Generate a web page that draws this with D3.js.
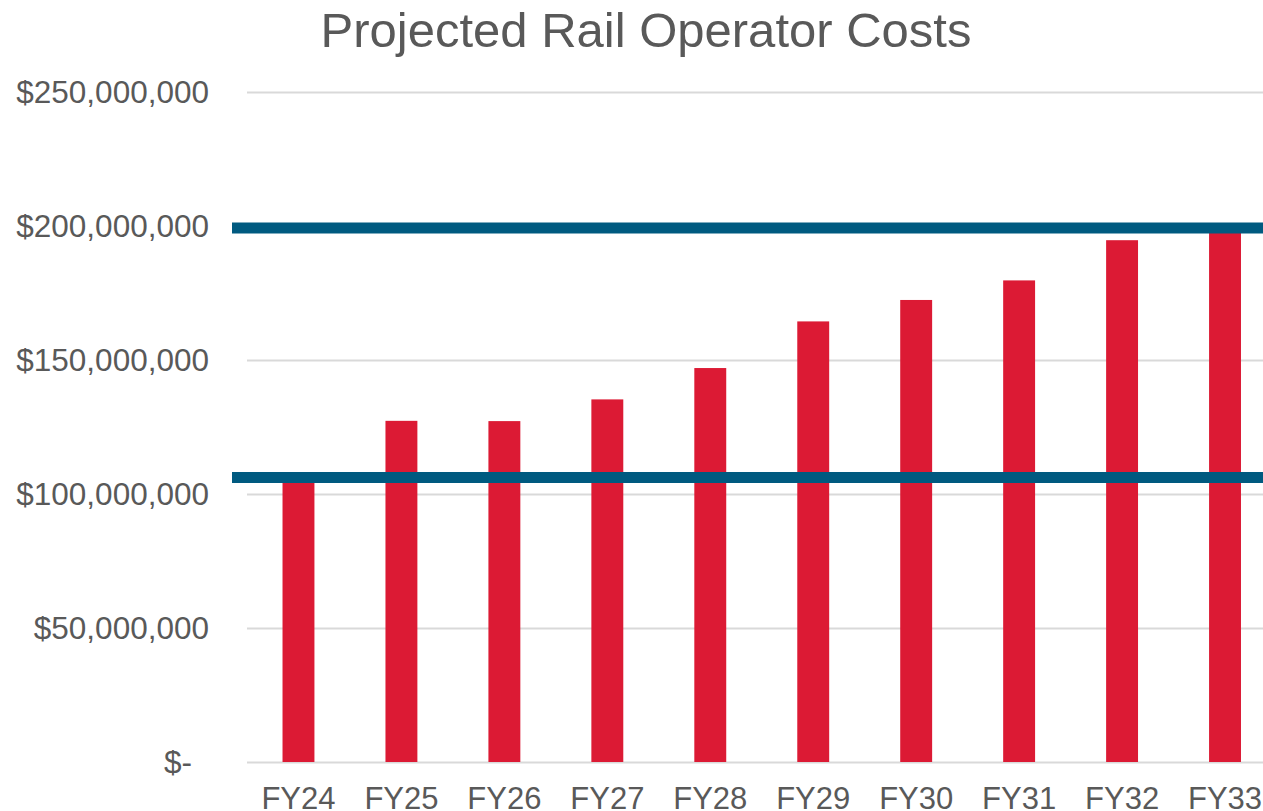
<!DOCTYPE html>
<html>
<head>
<meta charset="utf-8">
<script src="https://cdn.jsdelivr.net/npm/d3@7"></script>
<style>
  body { margin: 0; background: #fff; }
  svg { display: block; font-family: "Liberation Sans", Arial, sans-serif; }
</style>
</head>
<body>
<div id="chart"></div>
<script>
// chart data
var years = ["FY24", "FY25", "FY26", "FY27", "FY28", "FY29", "FY30", "FY31", "FY32", "FY33"];
var costs = [106000000, 127300000, 127200000, 135300000, 147000000, 164400000, 172400000, 179700000, 194700000, 199000000];
var refLines = [106200000, 199300000];
var yTicks = [0, 50000000, 100000000, 150000000, 200000000, 250000000];

var svgWidth = 1263;
var svgHeight = 811;

// plot area (runs past the right edge, like the original)
var plot = { left: 247, right: 1276.5, top: 92, bottom: 762 };

var svg = d3.select("#chart")
  .append("svg")
  .attr("width", svgWidth)
  .attr("height", svgHeight);

var x = d3.scaleBand()
  .domain(years)
  .range([plot.left, plot.right])
  .paddingInner(0.69)
  .paddingOuter(0.345);

var y = d3.scaleLinear()
  .domain([0, 250000000])
  .range([plot.bottom, plot.top]);

// title
svg.append("text")
  .attr("x", 646)
  .attr("y", 47)
  .attr("text-anchor", "middle")
  .attr("font-size", "49px")
  .attr("fill", "#595959")
  .text("Projected Rail Operator Costs");

// y axis with gridlines
var fmt = d3.format("$,");
var yAxis = svg.append("g")
  .attr("transform", `translate(${plot.left}, 0)`)
  .call(d3.axisLeft(y)
    .tickValues(yTicks)
    .tickSize(-(svgWidth - plot.left))
    .tickPadding(38)
    .tickFormat(d => d === 0 ? "$-" : fmt(d)));

yAxis.select(".domain").remove();
yAxis.selectAll(".tick line")
  .attr("stroke", "#d9d9d9")
  .attr("stroke-width", 2);
yAxis.selectAll(".tick text")
  .attr("font-size", "31.5px")
  .attr("font-family", "Liberation Sans, Arial, sans-serif")
  .attr("fill", "#595959")
  .attr("dx", d => d === 0 ? -17 : 0);

// x axis labels
var xAxis = svg.append("g")
  .attr("transform", `translate(0, ${plot.bottom})`)
  .call(d3.axisBottom(x).tickSize(0).tickPadding(25));

xAxis.select(".domain").remove();
xAxis.selectAll(".tick text")
  .attr("font-size", "31px")
  .attr("font-family", "Liberation Sans, Arial, sans-serif")
  .attr("fill", "#595959");

// bars
svg.append("g")
  .selectAll("rect")
  .data(costs)
  .enter()
  .append("rect")
  .attr("x", (d, i) => x(years[i]))
  .attr("y", d => y(d))
  .attr("width", x.bandwidth())
  .attr("height", d => y(0) - y(d))
  .attr("fill", "#dc1a34");

// horizontal reference lines
svg.append("g")
  .selectAll("line")
  .data(refLines)
  .enter()
  .append("line")
  .attr("x1", 232)
  .attr("x2", svgWidth)
  .attr("y1", d => y(d))
  .attr("y2", d => y(d))
  .attr("stroke", "#005a80")
  .attr("stroke-width", 11);
</script>
</body>
</html>
